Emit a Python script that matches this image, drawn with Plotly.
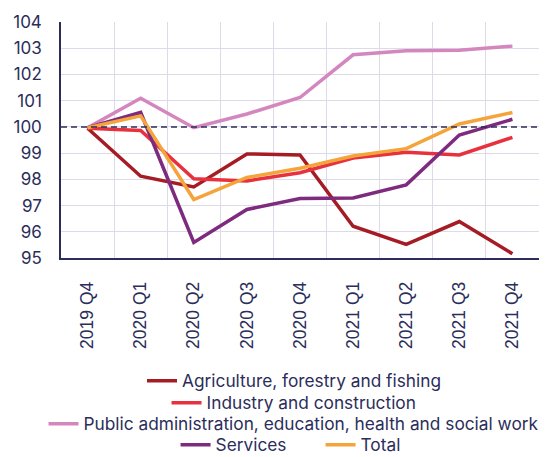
import plotly.graph_objects as go

quarters = ["2019 Q4", "2020 Q1", "2020 Q2", "2020 Q3", "2020 Q4",
            "2021 Q1", "2021 Q2", "2021 Q3", "2021 Q4"]

agriculture = [99.95, 98.12, 97.71, 98.97, 98.93, 96.21, 95.52, 96.39, 95.16]
industry = [99.95, 99.86, 98.02, 97.94, 98.25, 98.81, 99.03, 98.93, 99.60]
public_admin = [99.97, 101.09, 99.97, 100.49, 101.12, 102.75, 102.90, 102.92, 103.08]
services = [99.97, 100.55, 95.59, 96.85, 97.27, 97.29, 97.79, 99.69, 100.29]
total = [99.97, 100.42, 97.23, 98.07, 98.42, 98.89, 99.17, 100.11, 100.55]

y_ticks = [95, 96, 97, 98, 99, 100, 101, 102, 103, 104]

NAVY = "#2b2d5a"
GRID = "#dedbe8"
FONT = "Inter, Lato, sans-serif"
TICK_FONT = "Liberation Sans, Arial, sans-serif"

series = [
    ("Agriculture, forestry and fishing", agriculture, "#a61c25", "legend"),
    ("Industry and construction", industry, "#e8313f", "legend2"),
    ("Public administration, education, health and social work", public_admin, "#d487bf", "legend3"),
    ("Services", services, "#7e2a7f", "legend4"),
    ("Total", total, "#f4a43a", "legend4"),
]

fig = go.Figure()
for name, vals, color, leg in series:
    fig.add_trace(go.Scatter(
        x=quarters, y=vals, name=name, mode="lines",
        line=dict(color=color, width=3.5),
        legend=leg,
    ))

# reference line at 100
fig.add_shape(type="line", xref="paper", x0=0, x1=1, yref="y", y0=100, y1=100,
              line=dict(color=NAVY, width=1.5, dash="6px,4px"), layer="above")

legend_common = dict(
    orientation="h", xanchor="center", yanchor="middle", yref="container",
    font=dict(family=FONT, size=17.3, color=NAVY),
    bgcolor="rgba(0,0,0,0)", itemwidth=30, tracegroupgap=0,
)

fig.update_layout(
    width=545, height=457,
    margin=dict(l=61, r=6, t=22, b=199, autoexpand=False),
    paper_bgcolor="white", plot_bgcolor="white",
    font=dict(family=FONT, size=16, color=NAVY),
    xaxis=dict(
        type="category", range=[-0.5, 8.5],
        tickangle=-90, tickson="boundaries", ticks="",
        showgrid=True, gridcolor=GRID, gridwidth=1,
        showline=True, linecolor=NAVY, linewidth=1.5,
        tickfont=dict(family=TICK_FONT, size=17.5, color=NAVY),
        ticklabelstandoff=15,
    ),
    yaxis=dict(
        range=[95, 104], tickvals=y_ticks,
        showgrid=True, gridcolor=GRID, gridwidth=1,
        showline=True, linecolor=NAVY, linewidth=1.5,
        zeroline=False, ticks="",
        tickfont=dict(family=FONT, size=17, color=NAVY),
        ticklabelstandoff=14,
    ),
    legend=dict(x=0.4875, y=0.1663, **legend_common),
    legend2=dict(x=0.4875, y=0.1182, **legend_common),
    legend3=dict(x=0.4875, y=0.0722, **legend_common),
    legend4=dict(x=0.543, y=0.0263, entrywidth=100, **legend_common),
    showlegend=True,
)

fig.write_html("out.html")
